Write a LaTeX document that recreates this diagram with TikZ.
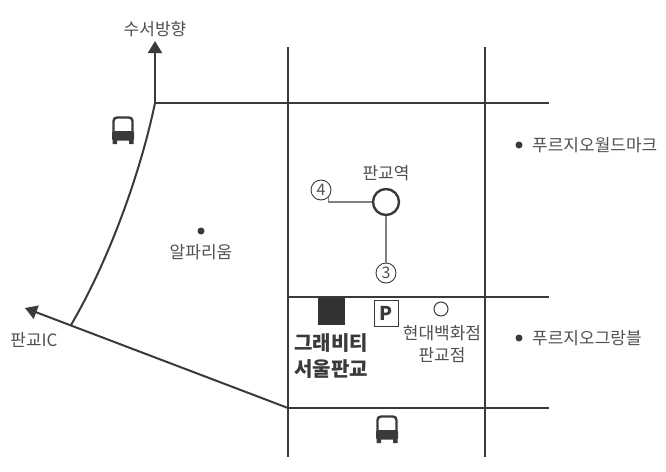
\documentclass[tikz,border=0pt]{standalone}
\usepackage{fontspec}
\setmainfont{Noto Sans CJK KR}
\usetikzlibrary{arrows.meta}
\definecolor{ink}{HTML}{3A3A3A}
\definecolor{labelc}{HTML}{505050}
\tikzset{
  road/.style={draw=ink,line width=2pt},
  arrowroad/.style={road,-{Triangle[length=12pt,width=14pt,fill=ink]}},
  lbl/.style={text=labelc,font=\fontsize{17}{21.5}\selectfont,inner sep=0pt,align=center},
  bold lbl/.style={text=ink,font=\fontsize{20}{26}\selectfont\bfseries,inner sep=0pt,align=center},
  thin link/.style={draw=black!50,line width=1.7pt},
  exit/.style={circle,draw=ink,line width=.9pt,minimum size=20pt,inner sep=0pt,text=labelc,font=\fontsize{16}{16}\selectfont},
  dotmark/.style={circle,fill=ink,minimum size=7pt,inner sep=0pt},
}
\newcommand{\busicon}[1]{%
  \begin{scope}[shift={(#1)}]
    \draw[ink,line width=2.4pt,rounded corners=3.5pt] (-9.5,3) -- (-9.5,-12.5) -- (9.5,-12.5) -- (9.5,3);
    \fill[ink,rounded corners=1.5pt] (-11,1) rectangle (11,10.5);
    \fill[ink] (-10.5,9) rectangle (-6,14) (6,9) rectangle (10.5,14);
  \end{scope}}
\begin{document}
\begin{tikzpicture}[x=1pt,y=-1pt]
\useasboundingbox (0,0) rectangle (666,471);
\coordinate (vTop1) at (288,47);
\coordinate (vBot1) at (288,457);
\coordinate (vTop2) at (485,47);
\coordinate (vBot2) at (485,457);
\coordinate (h1L) at (155,103);
\coordinate (h1R) at (549,103);
\coordinate (h2L) at (288,297);
\coordinate (h2R) at (549,297);
\coordinate (h3L) at (288,408);
\coordinate (h3R) at (549,408);
\coordinate (curveEnd) at (71,325);
\coordinate (north) at (155,41);
\coordinate (west) at (25,308);
\draw[road] (vTop1) -- (vBot1);
\draw[road] (vTop2) -- (vBot2);
\draw[road] (h1L) -- (h1R);
\draw[road] (h2L) -- (h2R);
\draw[road] (h3L) -- (h3R);
\draw[arrowroad] (h1L) -- (north);
\draw[road] (h1L) .. controls (140,175) and (108,262) .. (curveEnd);
\draw[arrowroad] (h3L) -- (west);
\node[lbl] (nNorth) at (155,29) {수서방향};
\node[lbl] (nWest) at (34,340) {판교IC};
\busicon{123,130}
\busicon{387,429}
\node[dotmark] (dAlpha) at (201,231) {};
\node[lbl] (nAlpha) at (201,252) {알파리움};
\node[dotmark] (dWorld) at (519,145) {};
\node[lbl,anchor=west] (nWorld) at (532,145) {푸르지오월드마크};
\node[dotmark] (dGrand) at (519,338) {};
\node[lbl,anchor=west] (nGrand) at (532,338) {푸르지오그랑블};
\node[circle,draw=ink,line width=2.4pt,minimum size=26pt,inner sep=0pt] (station) at (386,202) {};
\node[lbl] (nStation) at (386,173) {판교역};
\node[exit] (e4) at (321,190) {4};
\node[exit] (e3) at (386,273) {3};
\draw[thin link] (e4.south east) |- (station.west);
\draw[thin link] (station.south) -- (e3.north);
\node[fill=black!80,minimum width=27pt,minimum height=27pt,inner sep=0pt] (bldg) at (331,311) {};
\node[bold lbl] (nBldg) at (331,356) {그래비티\\서울판교};
\node[draw=ink,line width=1pt,minimum width=24pt,minimum height=26pt,inner sep=0pt,text=ink,font=\fontsize{19}{19}\selectfont\bfseries] (park) at (386,313) {P};
\node[circle,draw=ink,line width=1pt,minimum size=14pt,inner sep=0pt] (dept) at (441,309) {};
\node[lbl] (nDept) at (442,344) {현대백화점\\판교점};
\end{tikzpicture}
\end{document}
